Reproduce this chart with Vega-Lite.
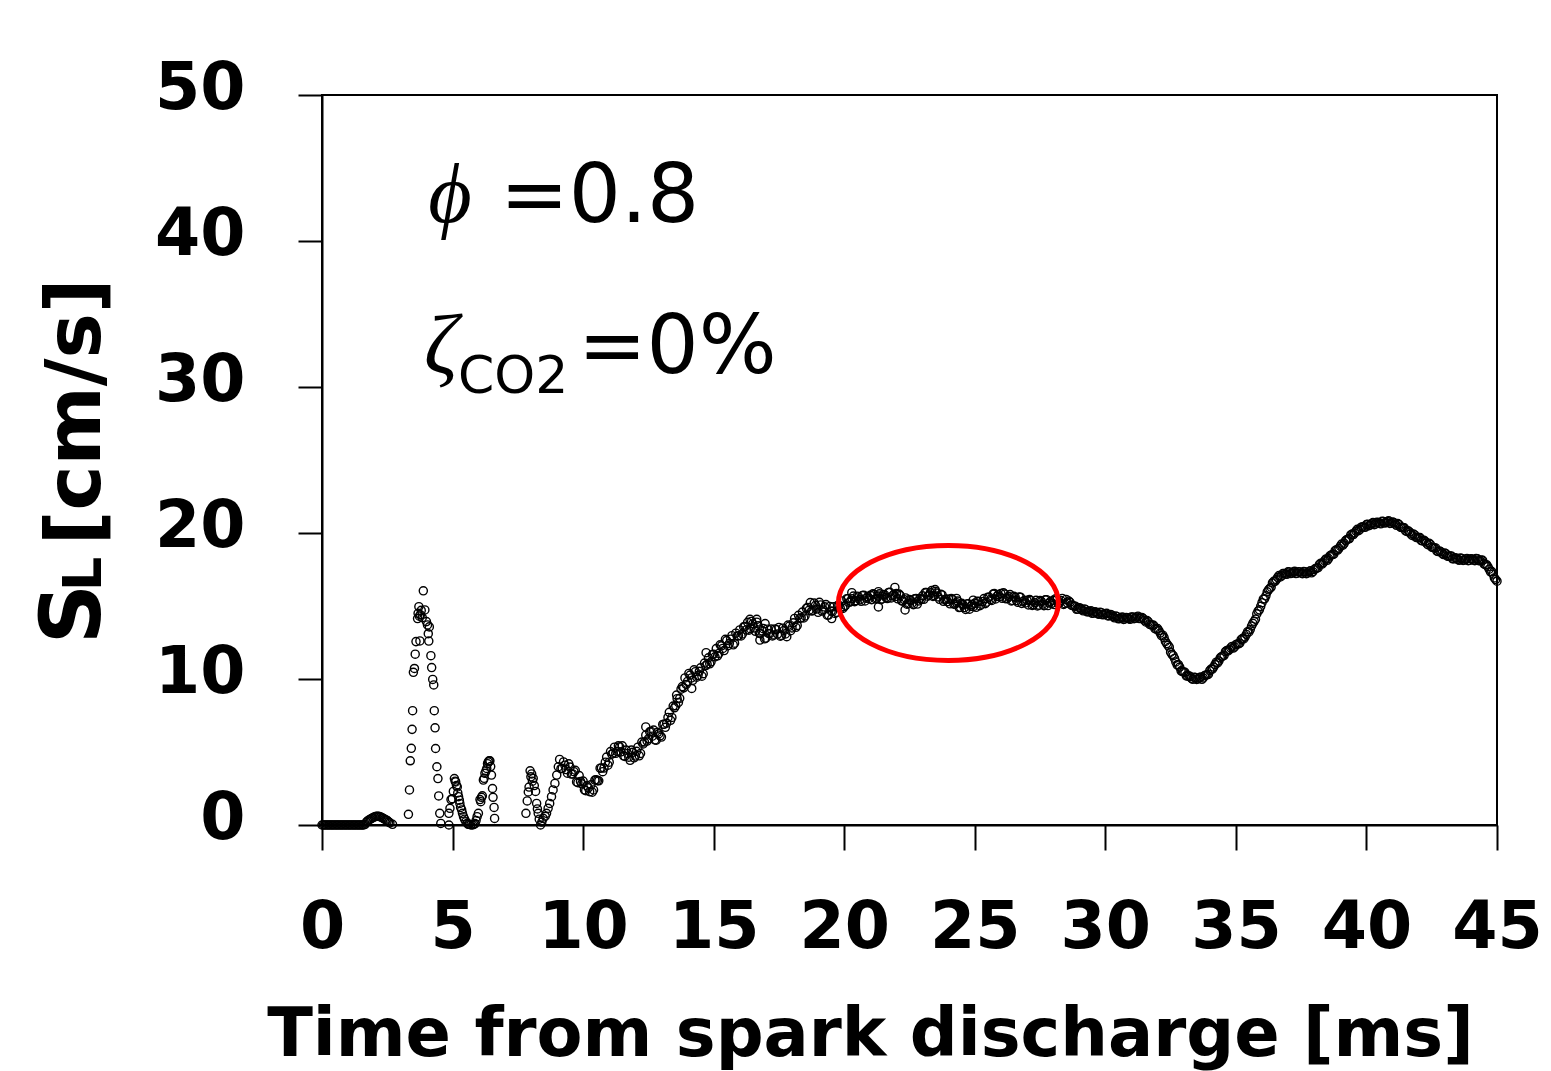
{
"$schema":"https://vega.github.io/schema/vega-lite/v6.json",
"width":1175,"height":730,
"autosize":{"type":"none"},
"padding":{"left":322,"top":95,"right":54,"bottom":246},
"background":"white",
"config":{"view":{"stroke":"black","strokeWidth":2},"axis":{"grid":false,"domainColor":"black","domainWidth":2,"tickColor":"black","tickWidth":2,"labelColor":"black","titleColor":"black","labelFont":"DejaVu Sans","titleFont":"DejaVu Sans","labelFontWeight":"bold","titleFontWeight":"bold"}},
"datasets":{
"sl":[
{"t":0,"s":0},{"t":0.05,"s":0},{"t":0.1,"s":0},{"t":0.15,"s":0},{"t":0.2,"s":0},{"t":0.25,"s":0},{"t":0.3,"s":0},{"t":0.35,"s":0},{"t":0.4,"s":0},{"t":0.45,"s":0},{"t":0.5,"s":0},{"t":0.55,"s":0},{"t":0.6,"s":0},{"t":0.65,"s":0},{"t":0.7,"s":0},{"t":0.75,"s":0},{"t":0.8,"s":0},{"t":0.85,"s":0},{"t":0.9,"s":0},{"t":0.95,"s":0},{"t":1.0,"s":0},{"t":1.05,"s":0},{"t":1.1,"s":0},{"t":1.15,"s":0},{"t":1.2,"s":0},{"t":1.25,"s":0},{"t":1.3,"s":0},{"t":1.35,"s":0},{"t":1.4,"s":0},{"t":1.45,"s":0},{"t":1.5,"s":0},{"t":1.55,"s":0},{"t":1.6,"s":0},{"t":1.65,"s":0.05},
{"t":1.7,"s":0.2},{"t":1.75,"s":0.28},{"t":1.8,"s":0.35},{"t":1.85,"s":0.4},{"t":1.9,"s":0.45},{"t":1.95,"s":0.5},{"t":2.0,"s":0.55},{"t":2.05,"s":0.58},{"t":2.1,"s":0.6},{"t":2.15,"s":0.6},{"t":2.2,"s":0.58},{"t":2.25,"s":0.55},{"t":2.3,"s":0.5},{"t":2.35,"s":0.45},{"t":2.4,"s":0.4},{"t":2.45,"s":0.35},{"t":2.5,"s":0.3},{"t":2.55,"s":0.22},{"t":2.6,"s":0.15},{"t":2.7,"s":0.05},
{"t":3.31,"s":0.73},{"t":3.35,"s":2.4},{"t":3.38,"s":4.4},{"t":3.42,"s":5.25},{"t":3.45,"s":6.55},{"t":3.47,"s":7.83},{"t":3.5,"s":10.46},{"t":3.54,"s":10.72},{"t":3.57,"s":11.7},{"t":3.6,"s":12.56},{"t":3.66,"s":14.14},{"t":3.68,"s":14.5},{"t":3.71,"s":14.95},{"t":3.73,"s":14.3},{"t":3.75,"s":12.61},{"t":3.77,"s":14.4},{"t":3.8,"s":14.7},{"t":3.84,"s":14.2},{"t":3.88,"s":16.04},{"t":3.94,"s":14.73},{"t":4.0,"s":13.93},{"t":4.04,"s":13.7},{"t":4.07,"s":13.1},{"t":4.09,"s":12.6},{"t":4.11,"s":13.57},{"t":4.17,"s":11.6},{"t":4.2,"s":10.78},{"t":4.24,"s":9.97},{"t":4.28,"s":9.59},{"t":4.3,"s":7.83},{"t":4.33,"s":6.66},{"t":4.35,"s":5.24},{"t":4.4,"s":3.99},{"t":4.44,"s":3.18},{"t":4.47,"s":1.99},{"t":4.51,"s":0.8},{"t":4.55,"s":0.11},
{"t":4.86,"s":0.8},{"t":4.86,"s":0.0},{"t":4.9,"s":1.14},{"t":4.94,"s":1.74},{"t":4.99,"s":1.8},{"t":5.03,"s":2.3},{"t":5.07,"s":3.18},{"t":5.1,"s":3.0},{"t":5.12,"s":2.95},{"t":5.15,"s":2.7},{"t":5.18,"s":2.61},{"t":5.2,"s":2.2},{"t":5.23,"s":1.94},{"t":5.26,"s":1.7},{"t":5.28,"s":1.48},{"t":5.31,"s":1.2},{"t":5.35,"s":1.03},{"t":5.38,"s":0.8},{"t":5.42,"s":0.57},{"t":5.46,"s":0.4},{"t":5.51,"s":0.23},{"t":5.56,"s":0.12},{"t":5.6,"s":0.05},{"t":5.64,"s":0.05},{"t":5.7,"s":0.0},{"t":5.77,"s":0.0},{"t":5.82,"s":0.05},{"t":5.86,"s":0.1},{"t":5.9,"s":0.3},{"t":5.94,"s":0.57},{"t":5.99,"s":0.8},
{"t":6.05,"s":1.74},{"t":6.08,"s":1.6},{"t":6.11,"s":1.9},{"t":6.14,"s":2.0},{"t":6.18,"s":3.08},{"t":6.21,"s":3.2},{"t":6.24,"s":3.54},{"t":6.28,"s":3.7},{"t":6.31,"s":3.87},{"t":6.34,"s":4.2},{"t":6.37,"s":4.33},{"t":6.4,"s":4.4},{"t":6.43,"s":4.4},{"t":6.46,"s":4.0},{"t":6.49,"s":3.42},{"t":6.53,"s":2.5},{"t":6.55,"s":1.9},{"t":6.59,"s":1.2},{"t":6.61,"s":0.45},
{"t":7.81,"s":0.8},{"t":7.86,"s":1.65},{"t":7.9,"s":2.26},{"t":7.93,"s":2.6},{"t":7.97,"s":3.71},{"t":8.0,"s":3.3},{"t":8.03,"s":3.5},{"t":8.06,"s":3.0},{"t":8.09,"s":3.2},{"t":8.13,"s":2.7},{"t":8.18,"s":2.3},{"t":8.22,"s":1.48},{"t":8.25,"s":1.1},{"t":8.28,"s":0.8},{"t":8.32,"s":0.4},{"t":8.37,"s":0.0},{"t":8.42,"s":0.2},{"t":8.47,"s":0.46},{"t":8.55,"s":0.6},{"t":8.6,"s":0.8},{"t":8.66,"s":1.14},{"t":8.72,"s":1.48},{"t":8.79,"s":1.94},{"t":8.85,"s":2.4},{"t":8.92,"s":2.85},{"t":8.99,"s":3.42},{"t":9.05,"s":3.99},
{"t":9.1,"s":4.49},{"t":9.2,"s":3.88},{"t":9.3,"s":4.1},{"t":9.4,"s":3.55},{"t":9.5,"s":3.97},{"t":9.6,"s":3.5},{"t":9.7,"s":3.75},{"t":9.8,"s":2.9},{"t":9.9,"s":2.98},{"t":10.0,"s":3.01},
{"t":10.1,"s":2.35},{"t":10.2,"s":2.55},{"t":10.3,"s":2.75},{"t":10.4,"s":2.4},{"t":10.5,"s":3.1},{"t":10.6,"s":3.03},{"t":10.7,"s":3.9},{"t":10.8,"s":3.9},{"t":10.9,"s":4.65},{"t":11.0,"s":4.3},
{"t":11.1,"s":4.85},{"t":11.2,"s":5.33},{"t":11.3,"s":5.04},{"t":11.4,"s":5.35},{"t":11.5,"s":5.42},{"t":11.6,"s":4.7},{"t":11.7,"s":4.9},{"t":11.8,"s":4.43},{"t":11.9,"s":4.98},{"t":12.0,"s":4.72},
{"t":12.1,"s":5.33},{"t":12.2,"s":4.9},{"t":12.3,"s":5.55},{"t":12.4,"s":6.15},{"t":12.5,"s":5.9},{"t":12.6,"s":6.41},{"t":12.7,"s":6.5},{"t":12.8,"s":5.81},{"t":12.9,"s":6.25},{"t":13.0,"s":6.02},
{"t":13.1,"s":6.9},{"t":13.2,"s":6.97},{"t":13.3,"s":7.72},{"t":13.4,"s":7.37},{"t":13.5,"s":8.03},{"t":13.6,"s":8.65},{"t":13.7,"s":8.68},{"t":13.8,"s":9.48},{"t":13.9,"s":10.07},{"t":14.0,"s":9.83},
{"t":14.1,"s":10.27},{"t":14.2,"s":9.91},{"t":14.3,"s":10.5},{"t":14.4,"s":10.24},{"t":14.5,"s":10.77},{"t":14.6,"s":10.36},{"t":14.7,"s":10.92},{"t":14.8,"s":11.45},{"t":14.9,"s":11.18},{"t":15.0,"s":11.7},
{"t":15.1,"s":12.08},{"t":15.2,"s":11.75},{"t":15.3,"s":12.27},{"t":15.4,"s":11.95},{"t":15.5,"s":12.63},{"t":15.6,"s":12.43},{"t":15.7,"s":12.97},{"t":15.8,"s":12.45},{"t":15.9,"s":12.93},{"t":16.0,"s":13.36},
{"t":16.1,"s":13.09},{"t":16.2,"s":13.59},{"t":16.3,"s":13.88},{"t":16.4,"s":13.45},{"t":16.5,"s":13.78},{"t":16.6,"s":13.27},{"t":16.7,"s":13.65},{"t":16.8,"s":13.1},{"t":16.9,"s":13.45},{"t":17.0,"s":12.8},
{"t":17.1,"s":13.12},{"t":17.2,"s":13.42},{"t":17.3,"s":13.02},{"t":17.4,"s":13.38},{"t":17.5,"s":13.53},{"t":17.6,"s":12.98},{"t":17.7,"s":13.33},{"t":17.8,"s":12.9},{"t":17.9,"s":13.62},{"t":18.0,"s":13.5},
{"t":18.1,"s":14.15},{"t":18.2,"s":13.67},{"t":18.3,"s":14.15},{"t":18.4,"s":14.58},{"t":18.5,"s":14.32},{"t":18.6,"s":14.9},{"t":18.7,"s":15.24},{"t":18.8,"s":14.7},{"t":18.9,"s":15.05},{"t":19.0,"s":14.57},
{"t":19.1,"s":15.07},{"t":19.2,"s":14.73},{"t":19.3,"s":15.1},{"t":19.4,"s":14.38},{"t":19.5,"s":14.66},{"t":19.6,"s":14.95},{"t":19.7,"s":14.57},{"t":19.8,"s":15.05},{"t":19.9,"s":15.35},{"t":20.0,"s":14.95},
{"t":20.1,"s":15.5},{"t":20.2,"s":15.25},{"t":20.3,"s":15.5},{"t":20.4,"s":15.3},{"t":20.5,"s":15.67},{"t":20.6,"s":15.42},{"t":20.7,"s":15.72},{"t":20.8,"s":15.35},{"t":20.9,"s":15.65},{"t":21.0,"s":15.73},
{"t":21.1,"s":15.83},{"t":21.2,"s":15.48},{"t":21.3,"s":15.68},{"t":21.4,"s":15.43},{"t":21.5,"s":15.78},{"t":21.6,"s":15.58},{"t":21.7,"s":15.93},{"t":21.8,"s":15.55},{"t":21.9,"s":15.8},{"t":22.0,"s":15.85},
{"t":22.1,"s":15.82},{"t":22.2,"s":15.35},{"t":22.3,"s":15.43},{"t":22.4,"s":15.12},{"t":22.5,"s":15.44},{"t":22.6,"s":15.19},{"t":22.7,"s":15.49},{"t":22.8,"s":15.13},{"t":22.9,"s":15.52},{"t":23.0,"s":15.7},
{"t":23.1,"s":15.92},{"t":23.2,"s":15.67},{"t":23.3,"s":15.91},{"t":23.4,"s":15.66},{"t":23.5,"s":16.0},{"t":23.6,"s":15.62},{"t":23.7,"s":15.8},{"t":23.8,"s":15.32},{"t":23.9,"s":15.48},{"t":24.0,"s":15.47},
{"t":24.1,"s":15.52},{"t":24.2,"s":15.12},{"t":24.3,"s":15.23},{"t":24.4,"s":14.89},{"t":24.5,"s":15.18},{"t":24.6,"s":14.88},{"t":24.7,"s":15.14},{"t":24.8,"s":14.78},{"t":24.9,"s":15.1},{"t":25.0,"s":15.19},
{"t":25.1,"s":15.33},{"t":25.2,"s":15.02},{"t":25.3,"s":15.31},{"t":25.4,"s":15.16},{"t":25.5,"s":15.6},{"t":25.6,"s":15.44},{"t":25.7,"s":15.82},{"t":25.8,"s":15.48},{"t":25.9,"s":15.78},{"t":26.0,"s":15.85},
{"t":26.1,"s":15.9},{"t":26.2,"s":15.49},{"t":26.3,"s":15.65},{"t":26.4,"s":15.35},{"t":26.5,"s":15.66},{"t":26.6,"s":15.37},{"t":26.7,"s":15.62},{"t":26.8,"s":15.18},{"t":26.9,"s":15.38},{"t":27.0,"s":15.39},
{"t":27.1,"s":15.44},{"t":27.2,"s":15.04},{"t":27.3,"s":15.23},{"t":27.4,"s":15.0},{"t":27.5,"s":15.37},{"t":27.6,"s":15.12},{"t":27.7,"s":15.42},{"t":27.8,"s":15.03},{"t":27.9,"s":15.31},{"t":28.0,"s":15.39},
{"t":28.1,"s":15.5},{"t":28.2,"s":15.17},{"t":28.3,"s":15.37},{"t":28.4,"s":15.11},{"t":28.5,"s":15.45},{"t":28.6,"s":15.34},{"t":28.7,"s":15.06},{"t":28.8,"s":15.0},{"t":28.9,"s":14.77},{"t":29.0,"s":14.88},
{"t":29.1,"s":14.75},{"t":29.2,"s":14.8},{"t":29.3,"s":14.6},{"t":29.4,"s":14.63},{"t":29.5,"s":14.5},{"t":29.6,"s":14.6},{"t":29.7,"s":14.49},{"t":29.8,"s":14.57},{"t":29.9,"s":14.4},{"t":30.0,"s":14.46},
{"t":30.1,"s":14.32},{"t":30.2,"s":14.42},{"t":30.3,"s":14.27},{"t":30.4,"s":14.32},{"t":30.5,"s":14.12},{"t":30.6,"s":14.19},{"t":30.7,"s":14.08},{"t":30.8,"s":14.21},{"t":30.9,"s":14.13},{"t":31.0,"s":14.25},
{"t":31.1,"s":14.13},{"t":31.2,"s":14.24},{"t":31.3,"s":14.14},{"t":31.4,"s":14.22},{"t":31.5,"s":14.02},{"t":31.6,"s":14.0},{"t":31.7,"s":13.74},{"t":31.8,"s":13.7},{"t":31.9,"s":13.45},{"t":32.0,"s":13.45},
{"t":32.1,"s":13.15},{"t":32.2,"s":13.0},{"t":32.3,"s":12.57},{"t":32.4,"s":12.31},{"t":32.5,"s":11.84},{"t":32.6,"s":11.6},{"t":32.7,"s":11.17},{"t":32.8,"s":10.98},{"t":32.9,"s":10.56},{"t":33.0,"s":10.48},
{"t":33.1,"s":10.22},{"t":33.2,"s":10.23},{"t":33.3,"s":10.05},{"t":33.4,"s":10.12},{"t":33.5,"s":9.97},{"t":33.6,"s":10.07},{"t":33.7,"s":9.98},{"t":33.8,"s":10.23},{"t":33.9,"s":10.29},{"t":34.0,"s":10.58},
{"t":34.1,"s":10.67},{"t":34.2,"s":10.99},{"t":34.3,"s":11.1},{"t":34.4,"s":11.45},{"t":34.5,"s":11.57},{"t":34.6,"s":11.88},{"t":34.7,"s":11.92},{"t":34.8,"s":12.13},{"t":34.9,"s":12.12},{"t":35.0,"s":12.35},
{"t":35.1,"s":12.4},{"t":35.2,"s":12.7},{"t":35.3,"s":12.74},{"t":35.4,"s":13.05},{"t":35.5,"s":13.22},{"t":35.6,"s":13.63},{"t":35.7,"s":13.95},{"t":35.8,"s":14.46},{"t":35.9,"s":14.74},{"t":36.0,"s":15.23},
{"t":36.1,"s":15.49},{"t":36.2,"s":15.97},{"t":36.3,"s":16.2},{"t":36.4,"s":16.58},{"t":36.5,"s":16.69},{"t":36.6,"s":16.96},{"t":36.7,"s":16.99},{"t":36.8,"s":17.22},{"t":36.9,"s":17.2},{"t":37.0,"s":17.34},
{"t":37.1,"s":17.22},{"t":37.2,"s":17.32},{"t":37.3,"s":17.22},{"t":37.4,"s":17.35},{"t":37.5,"s":17.26},{"t":37.6,"s":17.36},{"t":37.7,"s":17.21},{"t":37.8,"s":17.33},{"t":37.9,"s":17.27},{"t":38.0,"s":17.5},
{"t":38.1,"s":17.59},{"t":38.2,"s":17.86},{"t":38.3,"s":17.87},{"t":38.4,"s":18.1},{"t":38.5,"s":18.13},{"t":38.6,"s":18.43},{"t":38.7,"s":18.52},{"t":38.8,"s":18.79},{"t":38.9,"s":18.83},{"t":39.0,"s":19.1},
{"t":39.1,"s":19.17},{"t":39.2,"s":19.48},{"t":39.3,"s":19.58},{"t":39.4,"s":19.87},{"t":39.5,"s":19.89},{"t":39.6,"s":20.13},{"t":39.7,"s":20.16},{"t":39.8,"s":20.4},{"t":39.9,"s":20.4},{"t":40.0,"s":20.58},
{"t":40.1,"s":20.5},{"t":40.2,"s":20.64},{"t":40.3,"s":20.57},{"t":40.4,"s":20.73},{"t":40.5,"s":20.67},{"t":40.6,"s":20.8},{"t":40.7,"s":20.68},{"t":40.8,"s":20.79},{"t":40.9,"s":20.66},{"t":41.0,"s":20.75},
{"t":41.1,"s":20.62},{"t":41.2,"s":20.65},{"t":41.3,"s":20.4},{"t":41.4,"s":20.37},{"t":41.5,"s":20.14},{"t":41.6,"s":20.15},{"t":41.7,"s":19.94},{"t":41.8,"s":19.93},{"t":41.9,"s":19.7},{"t":42.0,"s":19.69},
{"t":42.1,"s":19.48},{"t":42.2,"s":19.51},{"t":42.3,"s":19.31},{"t":42.4,"s":19.3},{"t":42.5,"s":19.03},{"t":42.6,"s":18.99},{"t":42.7,"s":18.75},{"t":42.8,"s":18.77},{"t":42.9,"s":18.61},{"t":43.0,"s":18.63},
{"t":43.1,"s":18.41},{"t":43.2,"s":18.42},{"t":43.3,"s":18.23},{"t":43.4,"s":18.3},{"t":43.5,"s":18.19},{"t":43.6,"s":18.28},{"t":43.7,"s":18.12},{"t":43.8,"s":18.21},{"t":43.9,"s":18.1},{"t":44.0,"s":18.23},
{"t":44.1,"s":18.15},{"t":44.2,"s":18.25},{"t":44.3,"s":18.1},{"t":44.4,"s":18.15},{"t":44.5,"s":17.89},{"t":44.6,"s":17.83},{"t":44.7,"s":17.52},{"t":44.8,"s":17.36},{"t":44.9,"s":16.92},{"t":45.0,"s":16.7},
{"t":9.15,"s":3.86},{"t":9.25,"s":4.32},{"t":9.35,"s":3.8},{"t":9.45,"s":4.19},{"t":9.55,"s":3.49},{"t":9.65,"s":3.65},{"t":9.75,"s":2.95},{"t":9.85,"s":3.39},{"t":9.95,"s":2.82},{"t":10.05,"s":2.41},
{"t":10.15,"s":2.68},{"t":10.25,"s":2.28},{"t":10.35,"s":2.25},{"t":10.45,"s":3.08},{"t":10.55,"s":3.04},{"t":10.65,"s":3.89},{"t":10.75,"s":3.65},{"t":10.85,"s":4.3},{"t":10.95,"s":4.1},{"t":11.05,"s":5.03},
{"t":11.15,"s":4.92},{"t":11.25,"s":4.91},{"t":11.35,"s":5.42},{"t":11.45,"s":5.01},{"t":11.55,"s":4.74},{"t":11.65,"s":5.13},{"t":11.75,"s":4.64},{"t":11.85,"s":5.13},{"t":11.95,"s":4.6},{"t":12.05,"s":5.05},
{"t":12.15,"s":4.74},{"t":12.25,"s":5.68},{"t":12.35,"s":5.68},{"t":12.45,"s":5.75},{"t":12.55,"s":6.38},{"t":12.65,"s":6.08},{"t":12.75,"s":5.83},{"t":12.85,"s":6.35},{"t":12.95,"s":6.11},{"t":13.05,"s":6.89},
{"t":13.15,"s":6.69},{"t":13.25,"s":7.37},{"t":13.35,"s":7.17},{"t":13.45,"s":8.15},{"t":13.55,"s":8.17},{"t":13.65,"s":8.39},{"t":13.75,"s":9.3},{"t":13.85,"s":9.4},{"t":13.95,"s":9.63},{"t":14.05,"s":10.38},
{"t":14.15,"s":10.07},{"t":14.25,"s":10.63},{"t":14.35,"s":10.12},{"t":14.45,"s":10.53},{"t":14.55,"s":10.19},{"t":14.65,"s":11.09},{"t":14.75,"s":11.01},{"t":14.85,"s":11.04},{"t":14.95,"s":11.67},{"t":15.05,"s":11.52},
{"t":15.15,"s":11.59},{"t":15.25,"s":12.34},{"t":15.35,"s":12.09},{"t":15.45,"s":12.72},{"t":15.55,"s":12.28},{"t":15.65,"s":12.73},{"t":15.75,"s":12.34},{"t":15.85,"s":13.14},{"t":15.95,"s":12.97},{"t":16.05,"s":12.95},
{"t":16.15,"s":13.57},{"t":16.25,"s":13.36},{"t":16.35,"s":13.34},{"t":16.45,"s":13.94},{"t":16.55,"s":13.5},{"t":16.65,"s":13.89},{"t":16.75,"s":13.13},{"t":16.85,"s":13.3},{"t":16.95,"s":12.75},{"t":17.05,"s":13.41},
{"t":17.15,"s":13.1},{"t":17.25,"s":12.95},{"t":17.35,"s":13.43},{"t":17.45,"s":13.08},{"t":17.55,"s":12.93},{"t":17.65,"s":13.48},{"t":17.75,"s":13.09},{"t":17.85,"s":13.69},{"t":17.95,"s":13.31},{"t":18.05,"s":13.85},
{"t":18.15,"s":13.54},{"t":18.25,"s":14.36},{"t":18.35,"s":14.19},{"t":18.45,"s":14.18},{"t":18.55,"s":14.84},{"t":18.65,"s":14.7},{"t":18.75,"s":14.65},{"t":18.85,"s":15.2},{"t":18.95,"s":14.79},{"t":19.05,"s":15.25},
{"t":19.15,"s":14.65},{"t":19.25,"s":14.94},{"t":19.35,"s":14.37},{"t":19.45,"s":14.97},{"t":19.55,"s":14.63},{"t":19.65,"s":14.49},{"t":19.75,"s":15.04},{"t":19.85,"s":14.83},{"t":19.95,"s":14.83},
{"t":20.05,"s":15.05},{"t":20.15,"s":15.5},{"t":20.25,"s":15.33},{"t":20.35,"s":15.68},{"t":20.45,"s":15.36},{"t":20.55,"s":15.62},{"t":20.65,"s":15.32},{"t":20.75,"s":15.74},{"t":20.85,"s":15.53},{"t":20.95,"s":15.52},
{"t":21.05,"s":15.43},{"t":21.15,"s":15.78},{"t":21.25,"s":15.53},{"t":21.35,"s":15.83},{"t":21.45,"s":15.48},{"t":21.55,"s":15.76},{"t":21.65,"s":15.51},{"t":21.75,"s":15.94},{"t":21.85,"s":15.7},{"t":21.95,"s":15.65},
{"t":22.05,"s":15.49},{"t":22.15,"s":15.71},{"t":22.25,"s":15.34},{"t":22.35,"s":15.55},{"t":22.45,"s":15.16},{"t":22.55,"s":15.39},{"t":22.65,"s":15.09},{"t":22.75,"s":15.51},{"t":22.85,"s":15.35},{"t":22.95,"s":15.44},
{"t":23.05,"s":15.46},{"t":23.15,"s":15.92},{"t":23.25,"s":15.74},{"t":23.35,"s":16.06},{"t":23.45,"s":15.71},{"t":23.55,"s":15.89},{"t":23.65,"s":15.46},{"t":23.75,"s":15.76},{"t":23.85,"s":15.43},{"t":23.95,"s":15.3},
{"t":24.05,"s":15.15},{"t":24.15,"s":15.45},{"t":24.25,"s":15.13},{"t":24.35,"s":15.34},{"t":24.45,"s":14.91},{"t":24.55,"s":15.1},{"t":24.65,"s":14.76},{"t":24.75,"s":15.16},{"t":24.85,"s":14.97},{"t":24.95,"s":14.97},
{"t":25.05,"s":14.91},{"t":25.15,"s":15.3},{"t":25.25,"s":15.12},{"t":25.35,"s":15.51},{"t":25.45,"s":15.26},{"t":25.55,"s":15.6},{"t":25.65,"s":15.38},{"t":25.75,"s":15.85},{"t":25.85,"s":15.66},{"t":25.95,"s":15.64},
{"t":26.05,"s":15.53},{"t":26.15,"s":15.82},{"t":26.25,"s":15.52},{"t":26.35,"s":15.78},{"t":26.45,"s":15.38},{"t":26.55,"s":15.59},{"t":26.65,"s":15.25},{"t":26.75,"s":15.6},{"t":26.85,"s":15.31},{"t":26.95,"s":15.21},
{"t":27.05,"s":15.07},{"t":27.15,"s":15.37},{"t":27.25,"s":15.09},{"t":27.35,"s":15.39},{"t":27.45,"s":15.06},{"t":27.55,"s":15.32},{"t":27.65,"s":15.02},{"t":27.75,"s":15.43},{"t":27.85,"s":15.2},{"t":27.95,"s":15.18},
{"t":28.05,"s":15.1},{"t":28.15,"s":15.46},{"t":28.25,"s":15.22},{"t":28.35,"s":15.52},{"t":28.45,"s":15.16},
{"t":28.55,"s":15.2},{"t":28.65,"s":15.25},{"t":28.75,"s":15.02},{"t":28.85,"s":14.99},{"t":28.95,"s":14.79},{"t":29.05,"s":14.84},{"t":29.15,"s":14.67},{"t":29.25,"s":14.75},{"t":29.35,"s":14.6},{"t":29.45,"s":14.67},
{"t":29.55,"s":14.52},{"t":29.65,"s":14.57},{"t":29.75,"s":14.43},{"t":29.85,"s":14.54},{"t":29.95,"s":14.42},{"t":30.05,"s":14.5},{"t":30.15,"s":14.34},{"t":30.25,"s":14.37},{"t":30.35,"s":14.19},{"t":30.45,"s":14.27},
{"t":30.55,"s":14.14},{"t":30.65,"s":14.24},{"t":30.75,"s":14.11},{"t":30.85,"s":14.19},{"t":30.95,"s":14.09},{"t":31.05,"s":14.24},{"t":31.15,"s":14.17},{"t":31.25,"s":14.3},{"t":31.35,"s":14.15},{"t":31.45,"s":14.14},
{"t":31.55,"s":13.91},{"t":31.65,"s":13.92},{"t":31.75,"s":13.71},{"t":31.85,"s":13.68},{"t":31.95,"s":13.42},{"t":32.05,"s":13.32},{"t":32.15,"s":12.97},{"t":32.25,"s":12.84},{"t":32.35,"s":12.43},{"t":32.45,"s":12.18},
{"t":32.55,"s":11.69},{"t":32.65,"s":11.41},{"t":32.75,"s":10.97},{"t":32.85,"s":10.82},{"t":32.95,"s":10.51},{"t":33.05,"s":10.46},{"t":33.15,"s":10.19},{"t":33.25,"s":10.16},{"t":33.35,"s":9.98},{"t":33.45,"s":10.1},
{"t":33.55,"s":10.01},{"t":33.65,"s":10.13},{"t":33.75,"s":10.07},{"t":33.85,"s":10.28},{"t":33.95,"s":10.33},{"t":34.05,"s":10.68},{"t":34.15,"s":10.82},{"t":34.25,"s":11.15},{"t":34.35,"s":11.24},{"t":34.45,"s":11.53},
{"t":34.55,"s":11.62},{"t":34.65,"s":11.95},{"t":34.75,"s":12.01},{"t":34.85,"s":12.23},{"t":34.95,"s":12.2},{"t":35.05,"s":12.4},{"t":35.15,"s":12.45},{"t":35.25,"s":12.77},{"t":35.35,"s":12.88},{"t":35.45,"s":13.24},
{"t":35.55,"s":13.39},{"t":35.65,"s":13.81},{"t":35.75,"s":14.1},{"t":35.85,"s":14.65},{"t":35.95,"s":14.97},{"t":36.05,"s":15.47},{"t":36.15,"s":15.7},{"t":36.25,"s":16.11},{"t":36.35,"s":16.29},{"t":36.45,"s":16.69},
{"t":36.55,"s":16.81},{"t":36.65,"s":17.08},{"t":36.75,"s":17.07},{"t":36.85,"s":17.23},{"t":36.95,"s":17.17},{"t":37.05,"s":17.33},{"t":37.15,"s":17.26},{"t":37.25,"s":17.38},{"t":37.35,"s":17.25},{"t":37.45,"s":17.33},
{"t":37.55,"s":17.21},{"t":37.65,"s":17.34},{"t":37.75,"s":17.26},{"t":37.85,"s":17.41},{"t":37.95,"s":17.35},{"t":38.05,"s":17.57},{"t":38.15,"s":17.62},{"t":38.25,"s":17.92},{"t":38.35,"s":17.97},{"t":38.45,"s":18.22},
{"t":38.55,"s":18.25},{"t":38.65,"s":18.5},{"t":38.75,"s":18.55},{"t":38.85,"s":18.86},{"t":38.95,"s":18.95},{"t":39.05,"s":19.24},{"t":39.15,"s":19.29},{"t":39.25,"s":19.55},{"t":39.35,"s":19.62},{"t":39.45,"s":19.93},
{"t":39.55,"s":20.0},{"t":39.65,"s":20.25},{"t":39.75,"s":20.25},{"t":39.85,"s":20.42},{"t":39.95,"s":20.39},{"t":40.05,"s":20.59},{"t":40.15,"s":20.56},{"t":40.25,"s":20.71},{"t":40.35,"s":20.62},{"t":40.45,"s":20.72},
{"t":40.55,"s":20.63},{"t":40.65,"s":20.79},{"t":40.75,"s":20.72},{"t":40.85,"s":20.83},{"t":40.95,"s":20.67},{"t":41.05,"s":20.71},{"t":41.15,"s":20.53},{"t":41.25,"s":20.58},{"t":41.35,"s":20.37},{"t":41.45,"s":20.36},
{"t":41.55,"s":20.11},{"t":41.65,"s":20.07},{"t":41.75,"s":19.83},{"t":41.85,"s":19.87},{"t":41.95,"s":19.68},{"t":42.05,"s":19.69},{"t":42.15,"s":19.46},{"t":42.25,"s":19.43},{"t":42.35,"s":19.2},{"t":42.45,"s":19.22},
{"t":42.55,"s":19.0},{"t":42.65,"s":18.98},{"t":42.75,"s":18.73},{"t":42.85,"s":18.71},{"t":42.95,"s":18.52},{"t":43.05,"s":18.57},{"t":43.15,"s":18.4},{"t":43.25,"s":18.43},{"t":43.35,"s":18.23},{"t":43.45,"s":18.27},
{"t":43.55,"s":18.13},{"t":43.65,"s":18.25},{"t":43.75,"s":18.15},{"t":43.85,"s":18.26},{"t":43.95,"s":18.13},{"t":44.05,"s":18.21},{"t":44.15,"s":18.1},{"t":44.25,"s":18.23},{"t":44.35,"s":18.11},{"t":44.45,"s":18.13},
{"t":44.55,"s":17.83},{"t":44.65,"s":17.7},{"t":44.75,"s":17.34},{"t":44.85,"s":17.19},{"t":44.95,"s":16.81},
{"t":14.71,"s":11.8},{"t":12.4,"s":6.72},{"t":14.16,"s":9.35},{"t":13.58,"s":8.9},{"t":16.77,"s":12.67},{"t":16.39,"s":14.09},{"t":16.65,"s":14.09},{"t":16.97,"s":13.8},
{"t":21.94,"s":16.27},{"t":20.29,"s":15.91},{"t":21.31,"s":15.98},{"t":23.48,"s":16.13},{"t":19.52,"s":14.14},{"t":21.31,"s":14.94},{"t":22.33,"s":14.73},{"t":24.3,"s":15.52},{"t":24.94,"s":15.4}
]},
"layer":[
{"data":{"name":"sl"},
 "mark":{"type":"point","shape":"circle","filled":false,"stroke":"black","strokeWidth":1.4,"size":66,"opacity":1},
 "encoding":{
  "x":{"field":"t","type":"quantitative","scale":{"domain":[0,45],"nice":false,"zero":false},
   "axis":{"values":[0,5,10,15,20,25,30,35,40,45],"labelFontSize":65,"labelFlush":false,"labelOverlap":false,"tickSize":25,"labelPadding":46,
     "title":"Time from spark discharge [ms]","titleFontSize":67,"titleBaseline":"alphabetic","titleY":230,"titleX":548,"titleAlign":"center","titleAnchor":"start"}},
  "y":{"field":"s","type":"quantitative","scale":{"domain":[0,50],"nice":false,"zero":false},
   "axis":{"values":[0,10,20,30,40,50],"labelFontSize":65,"labelOverlap":false,"labelFlush":false,"tickSize":24,"labelPadding":53,"labelOffset":-7,"title":null}}
 }},
{"data":{"values":[{"t":23.99,"s":15.21}]},
 "mark":{"type":"point","shape":"M -1 0 C -1 -0.289 -0.552 -0.523 0 -0.523 C 0.552 -0.523 1 -0.289 1 0 C 1 0.289 0.552 0.523 0 0.523 C -0.552 0.523 -1 0.289 -1 0 Z","filled":false,"stroke":"#ff0000","strokeWidth":5,"size":48400,"opacity":1},
 "encoding":{"x":{"field":"t","type":"quantitative"},"y":{"field":"s","type":"quantitative"}}},
{"data":{"values":[{"t":4.9,"s":41.3,"txt":"ϕ"},{"t":4.56,"s":30.96,"txt":"ζ"}]},
 "mark":{"type":"text","font":"Liberation Serif","fontStyle":"italic","fontSize":84,"align":"center","baseline":"alphabetic","color":"black"},
 "encoding":{"x":{"field":"t","type":"quantitative"},"y":{"field":"s","type":"quantitative"},"text":{"field":"txt"}}},
{"data":{"values":[{"t":6.82,"s":41.3,"txt":"=0.8"},{"t":9.8,"s":30.96,"txt":"=0%"}]},
 "mark":{"type":"text","font":"DejaVu Sans","fontSize":82,"align":"left","baseline":"alphabetic","color":"black"},
 "encoding":{"x":{"field":"t","type":"quantitative"},"y":{"field":"s","type":"quantitative"},"text":{"field":"txt"}}},
{"data":{"values":[{"t":5.21,"s":29.59,"txt":"CO2"}]},
 "mark":{"type":"text","font":"DejaVu Sans","fontSize":52,"align":"left","baseline":"alphabetic","color":"black"},
 "encoding":{"x":{"field":"t","type":"quantitative"},"y":{"field":"s","type":"quantitative"},"text":{"field":"txt"}}},
{"data":{"values":[{"t":-8.52,"s":14.45,"txt":"S"}]},
 "mark":{"type":"text","font":"DejaVu Sans","fontWeight":"bold","fontSize":84,"angle":-90,"align":"center","baseline":"alphabetic","color":"black"},
 "encoding":{"x":{"field":"t","type":"quantitative"},"y":{"field":"s","type":"quantitative"},"text":{"field":"txt"}}},
{"data":{"values":[{"t":-8.52,"s":28.29,"txt":"[cm/s]"}]},
 "mark":{"type":"text","font":"DejaVu Sans","fontWeight":"bold","fontSize":76,"angle":-90,"align":"center","baseline":"alphabetic","color":"black"},
 "encoding":{"x":{"field":"t","type":"quantitative"},"y":{"field":"s","type":"quantitative"},"text":{"field":"txt"}}},
{"data":{"values":[{"t":-8.46,"s":17.19,"txt":"L"}]},
 "mark":{"type":"text","font":"DejaVu Sans","fontWeight":"bold","fontSize":54,"angle":-90,"align":"center","baseline":"alphabetic","color":"black"},
 "encoding":{"x":{"field":"t","type":"quantitative"},"y":{"field":"s","type":"quantitative"},"text":{"field":"txt"}}}
]
}
